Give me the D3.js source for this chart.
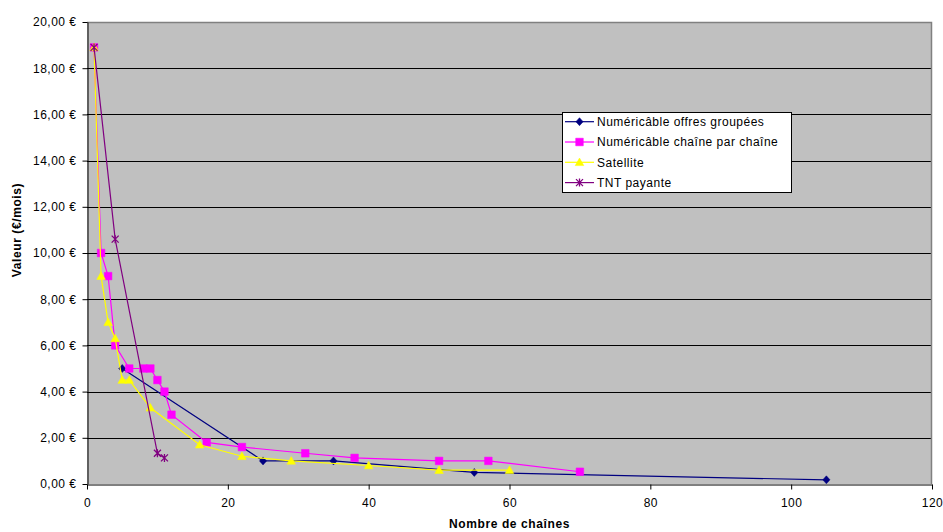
<!DOCTYPE html>
<html>
<head>
<meta charset="utf-8">
<script src="https://cdn.jsdelivr.net/npm/d3@7/dist/d3.min.js"></script>
<style>
  html, body { margin: 0; padding: 0; background: #fff; }
  svg text { font-family: "Liberation Sans", Arial, sans-serif; fill: #000; }
</style>
</head>
<body>
<svg id="chart" width="943" height="532"></svg>
<script>
// Axis ticks
const xTicks = [0, 20, 40, 60, 80, 100, 120];
const yTicks = [0, 2, 4, 6, 8, 10, 12, 14, 16, 18, 20];

// Numéricâble offres groupées
const groupesX = [5, 25, 35, 55, 105];
const groupesY = [5, 1, 1, 0.5, 0.18];

// Numéricâble chaîne par chaîne
const parChaineX = [1, 2, 3, 4, 6, 8, 9, 10, 11, 12, 17, 22, 31, 38, 50, 57, 70];
const parChaineY = [18.9, 10, 9, 6, 5, 5, 5, 4.5, 4, 3, 1.8, 1.6, 1.33, 1.13, 1, 1, 0.53];

// Satellite
const satelliteX = [1, 2, 3, 4, 5, 6, 9, 16, 22, 29, 40, 50, 60];
const satelliteY = [18.9, 9, 7, 6.3, 4.5, 4.5, 3.3, 1.7, 1.2, 1, 0.8, 0.6, 0.6];

// TNT payante
const tntX = [1, 4, 10, 11];
const tntY = [18.9, 10.6, 1.33, 1.13];

const seriesNames = ["Numéricâble offres groupées", "Numéricâble chaîne par chaîne", "Satellite", "TNT payante"];
const seriesColors = ["#000080", "#FF00FF", "#FFFF00", "#800080"];
const seriesMarkers = ["diamond", "square", "triangle", "star"];

const series = [
  { xs: groupesX, ys: groupesY },
  { xs: parChaineX, ys: parChaineY },
  { xs: satelliteX, ys: satelliteY },
  { xs: tntX, ys: tntY }
].map((s, i) => ({
  name: seriesNames[i],
  color: seriesColors[i],
  marker: seriesMarkers[i],
  points: s.xs.map((x, j) => ({ x, y: s.ys[j] }))
}));

const svg = d3.select("#chart");
const plot = { left: 87, top: 22, right: 932, bottom: 484 };

const x = d3.scaleLinear().domain([0, 120]).range([plot.left, plot.right]);
const y = d3.scaleLinear().domain([0, 20]).range([plot.bottom, plot.top]);

const fmt = v => d3.format(".2f")(v).replace(".", ",") + " €";

// Plot area
svg.append("rect")
  .attr("x", plot.left).attr("y", plot.top)
  .attr("width", plot.right - plot.left).attr("height", plot.bottom - plot.top)
  .attr("fill", "#C0C0C0");

// Horizontal gridlines
svg.append("g").selectAll("line")
  .data(yTicks.filter(t => t > 0 && t < 20))
  .join("line")
  .attr("x1", plot.left).attr("x2", plot.right)
  .attr("y1", d => Math.round(y(d)) + 0.5).attr("y2", d => Math.round(y(d)) + 0.5)
  .attr("stroke", "#000").attr("stroke-width", 1);

// Plot border (top and right)
svg.append("path")
  .attr("d", `M${plot.left},${plot.top + 0.5}H${plot.right - 0.5}V${plot.bottom}`)
  .attr("fill", "none").attr("stroke", "#808080").attr("stroke-width", 1.5);

// Axes
const xAxis = d3.axisBottom(x).tickValues(xTicks).tickSize(5).tickSizeOuter(0).tickPadding(6);
const yAxis = d3.axisLeft(y).tickValues(yTicks).tickSize(5).tickSizeOuter(0).tickPadding(6).tickFormat(fmt);

const gx = svg.append("g").attr("transform", `translate(0,${Math.round(y(0)) + 0.5})`).call(xAxis);
const gy = svg.append("g").attr("transform", `translate(${Math.round(x(0)) + 0.5},0)`).call(yAxis);

[gx, gy].forEach(g => {
  g.select(".domain").attr("stroke", "#000").attr("stroke-width", 1);
  g.selectAll(".tick line").attr("stroke", "#000");
  g.selectAll(".tick text")
    .attr("font-family", '"Liberation Sans", Arial, sans-serif')
    .attr("font-size", 12)
    .attr("letter-spacing", "0.5px")
    .attr("fill", "#000");
});
gx.selectAll(".tick text").attr("dy", "0.95em");

// Axis titles
svg.append("text")
  .attr("x", (plot.left + plot.right) / 2).attr("y", 528)
  .attr("text-anchor", "middle")
  .attr("font-size", 12).attr("font-weight", "bold").attr("letter-spacing", "0.6px")
  .text("Nombre de chaînes");

svg.append("text")
  .attr("transform", `translate(21,230) rotate(-90)`)
  .attr("text-anchor", "middle")
  .attr("font-size", 12).attr("font-weight", "bold").attr("letter-spacing", "0.6px")
  .text("Valeur (€/mois)");

// Marker shapes
function markerPath(type) {
  switch (type) {
    case "diamond": return "M0,-4L3.6,0L0,4L-3.6,0Z";
    case "square": return "M-3.8,-3.8H3.8V3.8H-3.8Z";
    case "triangle": return "M0,-4.3L4.3,3.3H-4.3Z";
    case "star": return "M-3.5,-3.5L3.5,3.5M-3.5,3.5L3.5,-3.5M0,-4V4";
  }
}

function drawMarker(g, type, color) {
  const filled = type !== "star";
  g.append("path")
    .attr("d", markerPath(type))
    .attr("fill", filled ? color : "none")
    .attr("stroke", color)
    .attr("stroke-width", filled ? 0.5 : 1.3);
}

const line = d3.line().x(d => x(d.x)).y(d => y(d.y));

series.forEach(s => {
  const g = svg.append("g");
  g.append("path")
    .datum(s.points)
    .attr("d", line)
    .attr("fill", "none")
    .attr("stroke", s.color)
    .attr("stroke-width", 1.2);
  g.selectAll("g.pt")
    .data(s.points)
    .join("g")
    .attr("class", "pt")
    .attr("transform", d => `translate(${x(d.x)},${y(d.y)})`)
    .each(function () { drawMarker(d3.select(this), s.marker, s.color); });
});

// Legend
const legend = svg.append("g");
legend.append("rect")
  .attr("x", 562.5).attr("y", 112.5)
  .attr("width", 229).attr("height", 80)
  .attr("fill", "#fff").attr("stroke", "#000").attr("stroke-width", 1);

series.forEach((s, i) => {
  const cy = 121.7 + i * 20.3;
  const row = legend.append("g");
  row.append("line")
    .attr("x1", 565).attr("x2", 594).attr("y1", cy).attr("y2", cy)
    .attr("stroke", s.color).attr("stroke-width", 1.2);
  const m = row.append("g").attr("transform", `translate(579.5,${cy})`);
  drawMarker(m, s.marker, s.color);
  row.append("text")
    .attr("x", 597).attr("y", cy).attr("dy", "0.36em")
    .attr("font-size", 12).attr("letter-spacing", "0.5px")
    .text(s.name);
});
</script>
</body>
</html>
